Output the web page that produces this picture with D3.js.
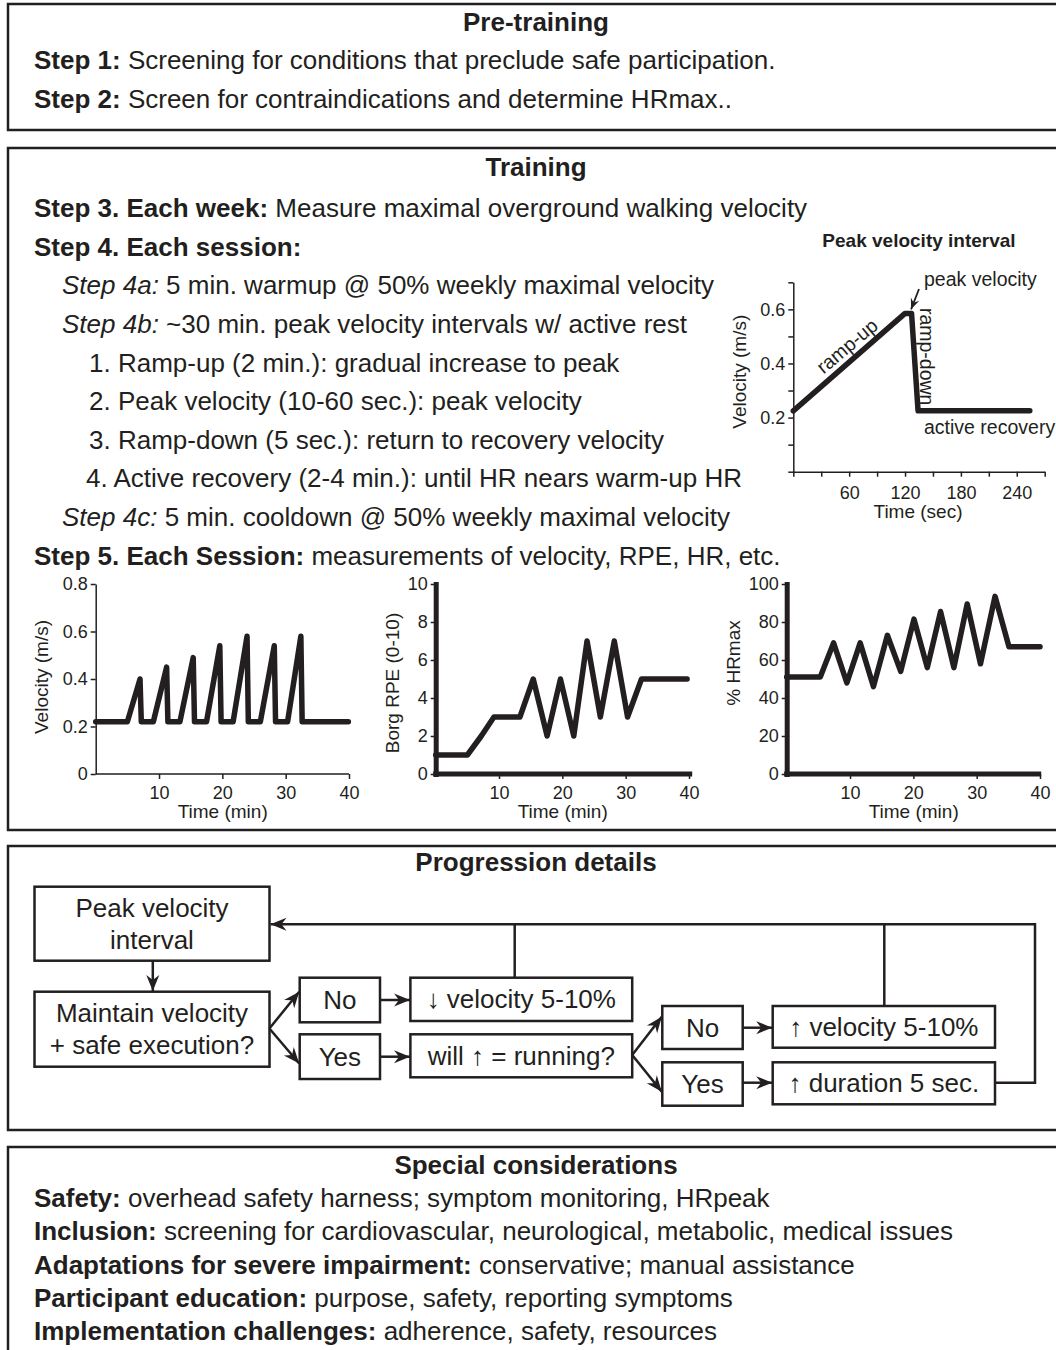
<!DOCTYPE html>
<html>
<head>
<meta charset="utf-8">
<script src="https://cdn.jsdelivr.net/npm/d3@7"></script>
<style>
body { margin: 0; background: #fff; }
text { font-family: "Liberation Sans", Arial, sans-serif; fill: #231f20; white-space: pre; }
</style>
</head>
<body>
<div id="chart-area"></div>
<script>
// ---- text content ----
var preTitle = "Pre-training";
var preLines = [
  [["b", "Step 1:"], ["n", " Screening for conditions that preclude safe participation."]],
  [["b", "Step 2:"], ["n", " Screen for contraindications and determine HRmax.."]]
];
var trainTitle = "Training";
var trainLines = [
  [["b", "Step 3. Each week:"], ["n", " Measure maximal overground walking velocity"]],
  [["b", "Step 4. Each session:"]],
  [["i", "Step 4a:"], ["n", " 5 min. warmup @ 50% weekly maximal velocity"]],
  [["i", "Step 4b:"], ["n", " ~30 min. peak velocity intervals w/ active rest"]],
  [["n", "1. Ramp-up (2 min.): gradual increase to peak"]],
  [["n", "2. Peak velocity (10-60 sec.): peak velocity"]],
  [["n", "3. Ramp-down (5 sec.): return to recovery velocity"]],
  [["n", "4. Active recovery (2-4 min.): until HR nears warm-up HR"]],
  [["i", "Step 4c:"], ["n", " 5 min. cooldown @ 50% weekly maximal velocity"]],
  [["b", "Step 5. Each Session:"], ["n", " measurements of velocity, RPE, HR, etc."]]
];
var trainIndent = [34, 34, 62, 62, 89, 89, 89, 86, 62, 34];
var progTitle = "Progression details";
var specialTitle = "Special considerations";
var specialLines = [
  [["b", "Safety:"], ["n", " overhead safety harness; symptom monitoring, HRpeak"]],
  [["b", "Inclusion:"], ["n", " screening for cardiovascular, neurological, metabolic, medical issues"]],
  [["b", "Adaptations for severe impairment:"], ["n", " conservative; manual assistance"]],
  [["b", "Participant education:"], ["n", " purpose, safety, reporting symptoms"]],
  [["b", "Implementation challenges:"], ["n", " adherence, safety, resources"]]
];

// ---- peak velocity interval (sec, m/s) ----
var intervalTime = [0, 120, 127, 134, 254];
var intervalVel = [0.225, 0.585, 0.585, 0.225, 0.225];
var intervalXTicks = [0, 30, 60, 90, 120, 150, 180, 210, 240, 270];
var intervalXLabels = [60, 120, 180, 240];
var intervalYTicks = [0, 0.1, 0.2, 0.3, 0.4, 0.5, 0.6, 0.7];
var intervalYLabels = [0.2, 0.4, 0.6];

// ---- session measurements (min) ----
var velTime = [0, 5, 7, 7.2, 9.1, 11.2, 11.4, 13.3, 15.4, 15.6, 17.5, 19.6, 19.8, 21.7, 23.9, 24.1, 26, 28.2, 28.4, 30.3, 32.4, 32.6, 39.9];
var velValue = [0.22, 0.22, 0.40, 0.22, 0.22, 0.45, 0.22, 0.22, 0.49, 0.22, 0.22, 0.54, 0.22, 0.22, 0.58, 0.22, 0.22, 0.54, 0.22, 0.22, 0.58, 0.22, 0.22];
var rpeTime = [0, 5, 7.2, 9.2, 13.3, 15.4, 17.6, 19.7, 21.8, 23.9, 26, 28.2, 30.3, 32.5, 39.7];
var rpeValue = [1, 1, 2, 3, 3, 5, 2, 5, 2, 7, 3, 7, 3, 5, 5];
var hrTime = [0, 5.3, 7.4, 9.5, 11.6, 13.7, 15.9, 18, 20.1, 22.2, 24.3, 26.4, 28.5, 30.6, 32.9, 35.1, 40];
var hrValue = [51, 51, 69, 48, 69, 46, 73, 54, 81.5, 56, 85.5, 56, 89.5, 58, 93.5, 67, 67];
var timeTicks = [10, 20, 30, 40];
var velTicks = [0, 0.2, 0.4, 0.6, 0.8];
var rpeTicks = [0, 2, 4, 6, 8, 10];
var hrTicks = [0, 20, 40, 60, 80, 100];

var ink = "#231f20";

var svg = d3.select("#chart-area").append("svg")
  .attr("width", 1056)
  .attr("height", 1350);

var defs = svg.append("defs");
defs.append("marker")
  .attr("id", "arrow")
  .attr("markerUnits", "userSpaceOnUse")
  .attr("viewBox", "-17 -8 18 16")
  .attr("refX", 0).attr("refY", 0)
  .attr("markerWidth", 18).attr("markerHeight", 16)
  .attr("orient", "auto")
  .append("path")
  .attr("d", "M-16,-6.5L0,0L-16,6.5L-11,0Z")
  .attr("fill", ink);
defs.append("marker")
  .attr("id", "arrowSmall")
  .attr("markerUnits", "userSpaceOnUse")
  .attr("viewBox", "-12 -6 13 12")
  .attr("refX", 0).attr("refY", 0)
  .attr("markerWidth", 13).attr("markerHeight", 12)
  .attr("orient", "auto")
  .append("path")
  .attr("d", "M-11,-4.5L0,0L-11,4.5L-7,0Z")
  .attr("fill", ink);

function richText(x, y, parts, size, anchor) {
  var t = svg.append("text")
    .attr("x", x)
    .attr("y", y)
    .attr("dy", "0.35em")
    .attr("font-size", size)
    .attr("text-anchor", anchor || "start");
  parts.forEach(function(p) {
    t.append("tspan")
      .attr("font-weight", p[0] == "b" ? "bold" : null)
      .attr("font-style", p[0] == "i" ? "italic" : null)
      .text(p[1]);
  });
  return t;
}

// panel frames (right side runs off the page)
[[4, 130], [148, 830], [846, 1130], [1147, 1420]].forEach(function(p) {
  svg.append("rect")
    .attr("x", 8).attr("y", p[0])
    .attr("width", 1070).attr("height", p[1] - p[0])
    .attr("fill", "none")
    .attr("stroke", ink)
    .attr("stroke-width", 2.5);
});

// Pre-training
richText(536, 22, [["b", preTitle]], 26, "middle");
preLines.forEach(function(l, i) { richText(34, 60 + i * 39, l, 26); });

// Training
richText(536, 167, [["b", trainTitle]], 26, "middle");
trainLines.forEach(function(l, i) { richText(trainIndent[i], 208 + i * 38.6, l, 26); });

// ---- peak velocity interval chart ----
var ix = d3.scaleLinear().domain([0, 270]).range([793.3, 1044.7]);
var iy = d3.scaleLinear().domain([0, 0.7]).range([471.7, 282.3]);

function styleAxis(g, w) {
  g.select(".domain").attr("stroke", ink).attr("stroke-width", w);
  g.selectAll(".tick line").attr("stroke", ink).attr("stroke-width", 1.5);
  g.selectAll(".tick text")
    .attr("fill", ink)
    .attr("font-family", "Liberation Sans, Arial, sans-serif");
}

var ixAxis = svg.append("g")
  .attr("transform", "translate(0," + iy(0) + ")")
  .call(d3.axisBottom(ix).tickValues(intervalXTicks).tickSize(5).tickSizeOuter(0)
    .tickFormat(function(d) { return intervalXLabels.indexOf(d) >= 0 ? d : ""; }));
ixAxis.selectAll(".tick text").attr("font-size", 18).attr("dy", "1.05em");
styleAxis(ixAxis, 1.5);

var iyAxis = svg.append("g")
  .attr("transform", "translate(" + ix(0) + ",0)")
  .call(d3.axisLeft(iy).tickValues(intervalYTicks).tickSize(5).tickSizeOuter(0)
    .tickFormat(function(d) { return intervalYLabels.indexOf(d) >= 0 ? d3.format(".1f")(d) : ""; }));
iyAxis.selectAll(".tick text").attr("font-size", 18);
styleAxis(iyAxis, 1.5);

var intervalPts = intervalTime.map(function(t, i) { return [t, intervalVel[i]]; });
svg.append("path")
  .attr("d", d3.line().x(function(d) { return ix(d[0]); }).y(function(d) { return iy(d[1]); })(intervalPts))
  .attr("fill", "none")
  .attr("stroke", ink)
  .attr("stroke-width", 5.5)
  .attr("stroke-linejoin", "round")
  .attr("stroke-linecap", "round");

richText(919, 240, [["b", "Peak velocity interval"]], 19, "middle");
richText(924, 279, [["n", "peak velocity"]], 19.5);
svg.append("line")
  .attr("x1", 919).attr("y1", 289)
  .attr("x2", ix(126.5)).attr("y2", iy(0.6))
  .attr("stroke", ink).attr("stroke-width", 1.8)
  .attr("marker-end", "url(#arrowSmall)");
richText(847, 346, [["n", "ramp-up"]], 19.5, "middle")
  .attr("transform", "rotate(-40,847,346)");
richText(926.5, 356.7, [["n", "ramp-down"]], 19.5, "middle")
  .attr("transform", "rotate(90,926.5,356.7)");
richText(924, 426.7, [["n", "active recovery"]], 19.5);
richText(739, 371.7, [["n", "Velocity (m/s)"]], 19, "middle")
  .attr("transform", "rotate(-90,739,371.7)");
richText(918, 511.7, [["n", "Time (sec)"]], 19, "middle");

// ---- session charts ----
function sessionChart(opt) {
  var x = d3.scaleLinear().domain([0, 40]).range([opt.x0, opt.x0 + 253.3]);
  var y = d3.scaleLinear().domain([0, opt.ymax]).range([774, 584]);
  var xa = svg.append("g")
    .attr("transform", "translate(0,774)")
    .call(d3.axisBottom(x).tickValues(timeTicks).tickSize(5).tickSizeOuter(0));
  xa.select(".domain").attr("d", "M" + opt.x0 + ",0H" + (opt.x0 + opt.xlen));
  xa.selectAll(".tick text").attr("font-size", 18).attr("dy", "0.95em");
  styleAxis(xa, opt.axisW);
  var ya = svg.append("g")
    .attr("transform", "translate(" + opt.x0 + ",0)")
    .call(d3.axisLeft(y).tickValues(opt.ticks).tickSize(5).tickSizeOuter(0)
      .tickFormat(opt.fmt));
  ya.selectAll(".tick text").attr("font-size", 18);
  styleAxis(ya, opt.axisW);
  if (opt.axisW > 2) {
    xa.select(".domain").attr("stroke-linecap", "square");
    ya.select(".domain").attr("stroke-linecap", "square");
  }
  var pts = opt.t.map(function(t, i) { return [t, opt.v[i]]; });
  svg.append("path")
    .attr("d", d3.line().x(function(d) { return x(d[0]); }).y(function(d) { return y(d[1]); })(pts))
    .attr("fill", "none")
    .attr("stroke", ink)
    .attr("stroke-width", 5.5)
    .attr("stroke-linejoin", "round")
    .attr("stroke-linecap", "round");
  richText(opt.labX, opt.labY, [["n", opt.label]], 19, "middle")
    .attr("transform", "rotate(-90," + opt.labX + "," + opt.labY + ")");
  richText(opt.x0 + 127, 811, [["n", "Time (min)"]], 19, "middle");
}

sessionChart({ x0: 95.7, xlen: 253.3, ymax: 0.8, ticks: velTicks, axisW: 1.5,
  fmt: function(d) { return d === 0 ? "0" : d3.format(".1f")(d); },
  t: velTime, v: velValue, label: "Velocity (m/s)", labX: 41, labY: 677 });
sessionChart({ x0: 435.7, xlen: 254, ymax: 10, ticks: rpeTicks, axisW: 5,
  fmt: d3.format("d"), t: rpeTime, v: rpeValue, label: "Borg RPE (0-10)", labX: 392, labY: 683 });
sessionChart({ x0: 786.7, xlen: 252, ymax: 100, ticks: hrTicks, axisW: 5,
  fmt: d3.format("d"), t: hrTime, v: hrValue, label: "% HRmax", labX: 733, labY: 663 });

// ---- progression flowchart ----
richText(536, 862, [["b", progTitle]], 26, "middle");

var boxes = [
  { x: 34.5, y: 886.7, w: 235, h: 74, lines: ["Peak velocity", "interval"] },
  { x: 34.5, y: 991.7, w: 235, h: 75, lines: ["Maintain velocity", "+ safe execution?"] },
  { x: 299.7, y: 977.7, w: 80.3, h: 44.6, lines: ["No"] },
  { x: 299.7, y: 1034.3, w: 80.3, h: 44.7, lines: ["Yes"] },
  { x: 410.4, y: 977.7, w: 221.8, h: 43.3, lines: ["\u2193 velocity 5-10%"] },
  { x: 410.4, y: 1034.3, w: 221.8, h: 43, lines: ["will \u2191 = running?"] },
  { x: 662.3, y: 1006, w: 80.4, h: 43, lines: ["No"] },
  { x: 662.3, y: 1062.3, w: 80.4, h: 43.4, lines: ["Yes"] },
  { x: 772.7, y: 1006, w: 222.3, h: 41.7, lines: ["\u2191 velocity 5-10%"] },
  { x: 772.7, y: 1062.3, w: 222.3, h: 42, lines: ["\u2191 duration 5 sec."] }
];

boxes.forEach(function(b) {
  svg.append("rect")
    .attr("x", b.x).attr("y", b.y)
    .attr("width", b.w).attr("height", b.h)
    .attr("fill", "#fff")
    .attr("stroke", ink)
    .attr("stroke-width", 2.5);
  var cy = b.y + b.h / 2 - (b.lines.length - 1) * 16;
  b.lines.forEach(function(s, i) {
    richText(b.x + b.w / 2, cy + i * 32, [["n", s]], 26, "middle");
  });
});

var connectors = [
  { pts: [[152.8, 960.7], [152.8, 991]], arrow: true },
  { pts: [[269.4, 1028.5], [299.2, 991.7]], arrow: true },
  { pts: [[269.4, 1028.5], [299.2, 1063.5]], arrow: true },
  { pts: [[380, 1000], [410, 1000]], arrow: true },
  { pts: [[380, 1056.7], [410, 1056.7]], arrow: true },
  { pts: [[632.2, 1055], [661.8, 1016.7]], arrow: true },
  { pts: [[632.2, 1055], [661.8, 1091.7]], arrow: true },
  { pts: [[742.7, 1027.7], [772.2, 1027.7]], arrow: true },
  { pts: [[742.7, 1082.7], [772.2, 1082.7]], arrow: true },
  { pts: [[995, 1082.7], [1035, 1082.7], [1035, 924.3], [270.5, 924.3]], arrow: true },
  { pts: [[514.7, 977.7], [514.7, 924.3]], arrow: false },
  { pts: [[884.3, 1006], [884.3, 924.3]], arrow: false }
];

connectors.forEach(function(c) {
  svg.append("path")
    .attr("d", d3.line()(c.pts))
    .attr("fill", "none")
    .attr("stroke", ink)
    .attr("stroke-width", 2.5)
    .attr("marker-end", c.arrow ? "url(#arrow)" : null);
});

// ---- special considerations ----
richText(536, 1165, [["b", specialTitle]], 26, "middle");
specialLines.forEach(function(l, i) { richText(34, 1198 + i * 33.3, l, 26); });
</script>
</body>
</html>
